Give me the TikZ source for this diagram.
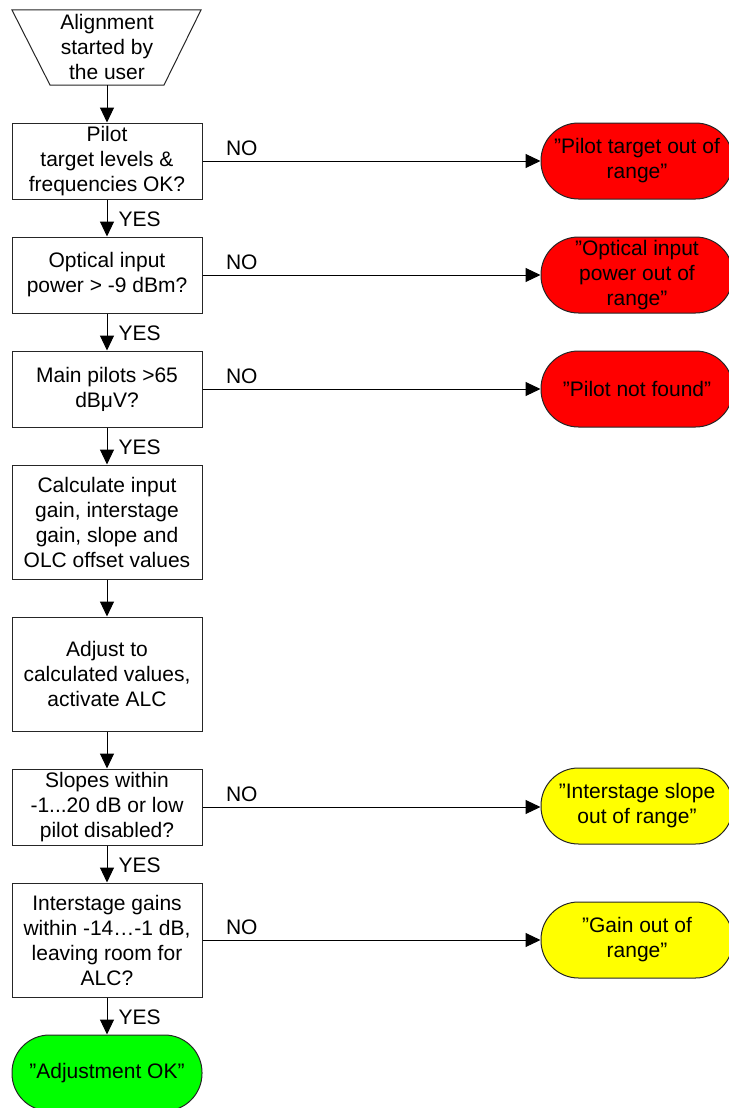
\documentclass[tikz,border=0pt]{standalone}
\usepackage{fontspec}
\setmainfont{Liberation Sans}
\usetikzlibrary{arrows.meta}
\definecolor{termred}{RGB}{255,0,0}
\definecolor{termyellow}{RGB}{255,255,0}
\definecolor{termgreen}{RGB}{0,255,0}
\tikzset{
  txt/.style={font=\fontsize{21}{25}\selectfont, align=center, inner sep=0pt},
  proc/.style={txt, draw=black!85, line width=1pt, fill=white, minimum width=190pt, minimum height=76pt},
  tall/.style={proc, minimum height=114pt},
  term/.style={txt, draw=black!85, line width=1pt, minimum width=192pt, minimum height=76pt, rounded corners=37.5pt},
  conn/.style={line width=1pt, -{Triangle[length=15pt,width=14pt]}},
  lbl/.style={font=\fontsize{21}{25}\selectfont, inner sep=0pt},
  yes/.style={lbl, pos=0.5, anchor=west, xshift=11pt, yshift=-1pt},
  no/.style={lbl, pos=0, anchor=west, xshift=23pt, yshift=13pt}
}
\begin{document}
\begin{tikzpicture}[x=1pt,y=-1pt]
\useasboundingbox (0,0) rectangle (728,1108);
% start (manual input trapezoid)
\draw[draw=black!85, line width=1pt, fill=white] (12,10) -- (201,10) -- (164,85) -- (50,85) -- cycle;
\node[txt] (start) at (107,47) {Alignment\\started by\\the user};
\coordinate (startb) at (107,85);
% process boxes
\node[proc] (b1) at (107,161) {Pilot\\target levels \&\\frequencies OK?};
\node[proc] (b2) at (107,275) {Optical input\\power > -9 dBm?};
\node[proc] (b3) at (107,389) {Main pilots >65\\dBμV?};
\node[tall] (b4) at (107,522) {Calculate input\\gain, interstage\\gain, slope and\\OLC offset values};
\node[tall] (b5) at (107,674) {Adjust to\\calculated values,\\activate ALC};
\node[proc] (b6) at (107,807) {Slopes within\\-1...20 dB or low\\pilot disabled?};
\node[tall] (b7) at (107,940) {Interstage gains\\within -14…-1 dB,\\leaving room for\\ALC?};
\node[term, minimum width=190pt, fill=termgreen] (ok) at (107,1073) {”Adjustment OK”};
% terminals
\node[term, fill=termred] (t1) at (637,161) {”Pilot target out of\\range”};
\node[term, fill=termred] (t2) at (637,275) {”Optical input\\power out of\\range”};
\node[term, fill=termred] (t3) at (637,389) {”Pilot not found”};
\node[term, fill=termyellow] (t4) at (637,806) {”Interstage slope\\out of range”};
\node[term, fill=termyellow] (t5) at (637,940) {”Gain out of\\range”};
% vertical connectors
\draw[conn] (startb) -- (b1.north);
\draw[conn] (b1) -- (b2) node[yes] {YES};
\draw[conn] (b2) -- (b3) node[yes] {YES};
\draw[conn] (b3) -- (b4) node[yes] {YES};
\draw[conn] (b4) -- (b5);
\draw[conn] (b5) -- (b6);
\draw[conn] (b6) -- (b7) node[yes] {YES};
\draw[conn] (b7) -- (ok) node[yes] {YES};
% horizontal connectors
\draw[conn] (b1.east) -- (b1.east -| t1.west) node[no] {NO};
\draw[conn] (b2.east) -- (t2.west) node[no] {NO};
\draw[conn] (b3.east) -- (t3.west) node[no] {NO};
\draw[conn] (b6.east) -- (b6.east -| t4.west) node[no] {NO};
\draw[conn] (b7.east) -- (t5.west) node[no] {NO};
\end{tikzpicture}
\end{document}
